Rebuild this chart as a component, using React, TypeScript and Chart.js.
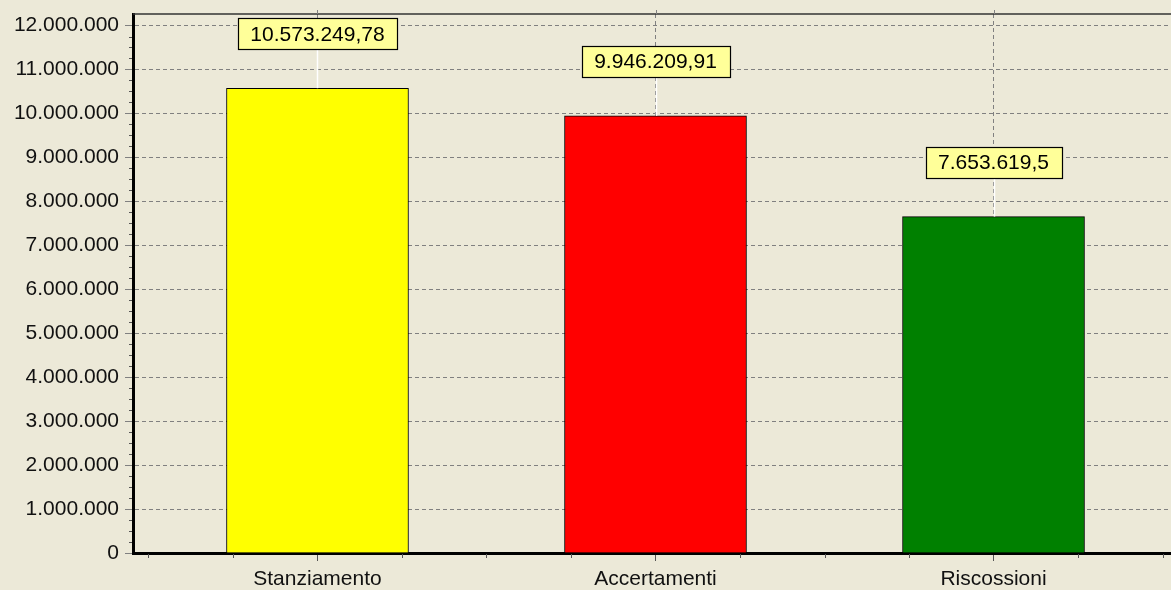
import React, { useEffect, useRef } from 'react';
import { Chart, registerables } from 'chart.js';

Chart.register(...registerables);

const categories = ['Stanziamento', 'Accertamenti', 'Riscossioni'];
const values = [10573249.78, 9946209.91, 7653619.5];
const barColors = ['#FFFF00', '#FF0000', '#008000'];
const yTicks = [0, 1000000, 2000000, 3000000, 4000000, 5000000, 6000000, 7000000, 8000000, 9000000, 10000000, 11000000, 12000000];

const FONT = "'Liberation Sans', Arial, Helvetica, sans-serif";
const BG = '#ECE9D8';

function formatIt(v: number): string {
  const s = String(v);
  const [i, d] = s.split('.');
  const ii = i.replace(/\B(?=(\d{3})+(?!\d))/g, '.');
  return d ? ii + ',' + d : ii;
}

const bgPlugin = {
  id: 'bgPlugin',
  beforeDraw(chart: any) {
    const ctx = chart.ctx;
    ctx.save();
    ctx.fillStyle = BG;
    ctx.fillRect(0, 0, chart.width, chart.height);
    ctx.restore();
  },
};

const framePlugin = {
  id: 'framePlugin',
  afterDraw(chart: any) {
    const ctx = chart.ctx;
    const a = chart.chartArea;
    const x = chart.scales.x;
    const y = chart.scales.y;
    ctx.save();
    // top frame line
    ctx.strokeStyle = '#333333';
    ctx.lineWidth = 1.5;
    ctx.beginPath();
    ctx.moveTo(a.left, a.top);
    ctx.lineTo(a.right, a.top);
    ctx.stroke();
    // minor y ticks on the axis
    ctx.strokeStyle = '#555555';
    ctx.lineWidth = 1;
    for (let v = 0; v <= 12000000; v += 250000) {
      if (v % 1000000 === 0) continue;
      const py = Math.round(y.getPixelForValue(v)) + 0.5;
      ctx.beginPath();
      ctx.moveTo(a.left - 4, py);
      ctx.lineTo(a.left - 1, py);
      ctx.stroke();
    }
    // minor x ticks below axis
    for (let v = -0.5; v <= 2.5; v += 0.25) {
      if (Number.isInteger(v)) continue;
      const px = Math.round(x.getPixelForValue(v)) + 0.5;
      ctx.beginPath();
      ctx.moveTo(px, a.bottom + 1);
      ctx.lineTo(px, a.bottom + 5);
      ctx.stroke();
    }
    // top ticks at category centers
    for (let i = 0; i < categories.length; i++) {
      const px = Math.round(x.getPixelForValue(i)) + 0.5;
      ctx.strokeStyle = '#808080';
      ctx.beginPath();
      ctx.moveTo(px, a.top - 4);
      ctx.lineTo(px, a.top);
      ctx.stroke();
    }
    ctx.restore();
  },
};

const labelsPlugin = {
  id: 'labelsPlugin',
  afterDatasetsDraw(chart: any) {
    const ctx = chart.ctx;
    const meta = chart.getDatasetMeta(0);
    ctx.save();
    ctx.font = `21px ${FONT}`;
    meta.data.forEach((bar: any, i: number) => {
      const text = formatIt(values[i]);
      const tw = ctx.measureText(text).width;
      const w = Math.round(tw + 25);
      const h = 31;
      const cx = bar.x;
      const boxBottom = bar.y - 39;
      const boxTop = boxBottom - h;
      const left = Math.round(cx - w / 2) + 0.5;
      // connector
      ctx.strokeStyle = '#FFFFFF';
      ctx.lineWidth = 1.5;
      ctx.beginPath();
      ctx.moveTo(Math.round(cx) + 0.5, boxBottom);
      ctx.lineTo(Math.round(cx) + 0.5, bar.y);
      ctx.stroke();
      // box
      ctx.fillStyle = '#FFFF99';
      ctx.fillRect(left, Math.round(boxTop) + 0.5, w, h);
      ctx.strokeStyle = '#000000';
      ctx.lineWidth = 1.2;
      ctx.strokeRect(left, Math.round(boxTop) + 0.5, w, h);
      // text
      ctx.fillStyle = '#000000';
      ctx.textAlign = 'center';
      ctx.textBaseline = 'middle';
      ctx.fillText(text, cx, boxTop + h / 2 + 1);
    });
    ctx.restore();
  },
};

export default function App() {
  const ref = useRef<HTMLCanvasElement | null>(null);

  useEffect(() => {
    const canvas = ref.current;
    if (!canvas) return;
    Chart.defaults.font.family = FONT;
    const chart = new Chart(canvas, {
      type: 'bar',
      data: {
        datasets: [
          {
            data: values.map((v, i) => ({ x: i, y: v })) as any,
            backgroundColor: barColors,
            borderColor: '#000000',
            borderWidth: 1,
            barThickness: 182,
          },
        ],
      },
      options: {
        responsive: false,
        animation: false,
        devicePixelRatio: 1,
        layout: { padding: { top: 14, right: 12, left: 0, bottom: 0 } },
        plugins: {
          legend: { display: false },
          tooltip: { enabled: false },
          title: { display: false },
        },
        scales: {
          x: {
            type: 'linear',
            offset: false,
            min: -0.5458,
            max: 2.5458,
            afterBuildTicks: (s: any) => {
              s.ticks = categories.map((_, i) => ({ value: i }));
            },
            afterFit: (s: any) => {
              s.height = 37;
              s.paddingLeft = 0;
              s.paddingRight = 0;
            },
            ticks: {
              callback: (v: any) => categories[v as number] ?? '',
              font: { size: 21, family: FONT },
              color: '#111111',
              padding: 6,
              autoSkip: false,
              maxRotation: 0,
            },
            grid: { offset: false, color: '#808080', tickColor: '#555555', tickLength: 8, lineWidth: 1 },
            border: { display: true, color: '#000000', width: 3, dash: [4, 3] },
          },
          y: {
            type: 'linear',
            min: 0,
            max: 12262000,
            afterBuildTicks: (s: any) => {
              s.ticks = yTicks.map((v) => ({ value: v }));
            },
            afterFit: (s: any) => {
              s.width = 133;
              s.paddingTop = 0;
              s.paddingBottom = 0;
            },
            ticks: {
              callback: (v: any) => formatIt(v as number),
              font: { size: 21, family: FONT },
              color: '#111111',
              padding: 6,
              autoSkip: false,
            },
            grid: { color: '#808080', tickColor: '#808080', tickLength: 8, lineWidth: 1 },
            border: { display: true, color: '#000000', width: 3, dash: [4, 3] },
          },
        },
      } as any,
      plugins: [bgPlugin, framePlugin, labelsPlugin],
    });
    return () => chart.destroy();
  }, []);

  return (
    <div
      style={{
        position: 'fixed',
        left: 0,
        top: 0,
        width: 1171,
        height: 590,
        overflow: 'hidden',
        background: BG,
      }}
    >
      <canvas ref={ref} width={1190} height={590} style={{ display: 'block', width: 1190, height: 590 }} />
    </div>
  );
}
